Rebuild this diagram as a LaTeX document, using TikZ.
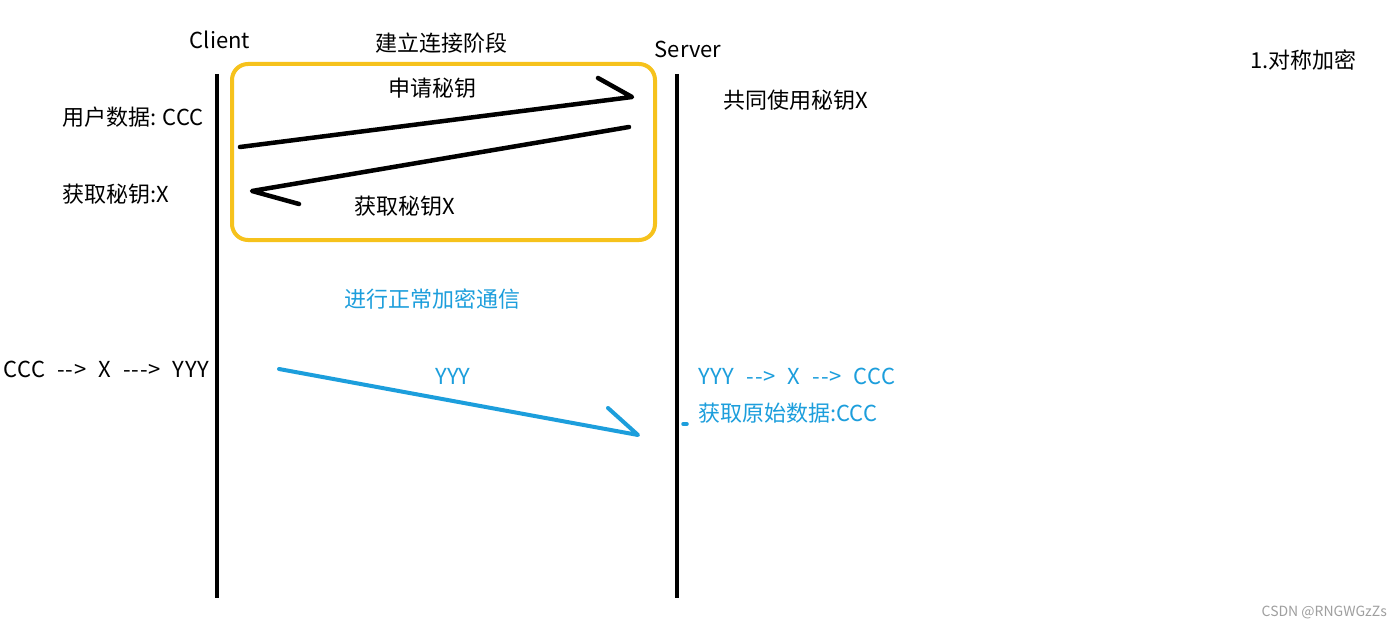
\documentclass[tikz,border=0pt]{standalone}
\usepackage{fontspec}
\newfontfamily\yh{Noto Sans CJK SC}
\newfontfamily\yhw{Noto Sans CJK SC}[WordSpace=2.2,LetterSpace=3]
\definecolor{gold}{HTML}{F6C21C}
\definecolor{sky}{HTML}{1C9EDC}
\begin{document}
\begin{tikzpicture}[x=1pt,y=-1pt,
  lbl/.style={font=\yh\fontsize{22}{26}\selectfont,inner sep=0pt},
  wlbl/.style={font=\yhw\fontsize{22}{26}\selectfont,inner sep=0pt},
  blbl/.style={lbl,text=sky},
  life/.style={line width=3.5pt,black},
  pen/.style={line width=4.5pt,line cap=round,line join=round},
  bpen/.style={line width=4pt,line cap=round,line join=round,sky}]
\useasboundingbox[fill=white] (0,0) rectangle (1400,631);
% lifelines
\coordinate (c1) at (217,74); \coordinate (c2) at (217,598);
\coordinate (s1) at (677,74); \coordinate (s2) at (677,598);
\draw[life] (c1) -- (c2);
\draw[life] (s1) -- (s2);
% headings
\node[lbl] (client) at (220,40) {Client};
\node[lbl] (server) at (688,49) {Server};
\node[lbl] (phase) at (441,43) {建立连接阶段};
\node[lbl,anchor=west] (title) at (1250,60) {1.对称加密};
% yellow box
\node[draw=gold,line width=4pt,rounded corners=16pt,minimum width=423pt,minimum height=176pt,inner sep=0pt] (box) at (443.5,152) {};
% left notes
\node[lbl,anchor=west] (data) at (62,117) {用户数据: CCC};
\node[lbl,anchor=west] (getx) at (62,194) {获取秘钥:X};
\node[lbl,anchor=west] (share) at (723,100) {共同使用秘钥X};
% arrow 1
\coordinate (a1s) at (240,147); \coordinate (a1t) at (632,97); \coordinate (a1b) at (598,78);
\draw[pen] (a1s) -- (a1t) -- (a1b);
\node[lbl] (req) at (432,88) {申请秘钥};
% arrow 2
\coordinate (a2s) at (629,127); \coordinate (a2t) at (252,191); \coordinate (a2b) at (299,204);
\draw[pen] (a2s) -- (a2t) -- (a2b);
\node[lbl] (resp) at (405,206) {获取秘钥X};
% normal comm
\node[blbl] (normal) at (432,299) {进行正常加密通信};
\node[wlbl,anchor=west] (enc) at (3,369) {CCC --> X ---> YYY};
\coordinate (a3s) at (279,369); \coordinate (a3t) at (638,435); \coordinate (a3b) at (608,408);
\draw[bpen] (a3s) -- (a3t) -- (a3b);
\node[blbl] (yyy) at (453,376) {YYY};
\coordinate (d1) at (683,424); \coordinate (d2) at (687,424);
\draw[sky,line width=3.5pt,line cap=round] (d1) -- (d2);
\node[wlbl,text=sky,anchor=west] (dec) at (698,376) {YYY --> X --> CCC};
\node[blbl,anchor=west] (orig) at (698,413) {获取原始数据:CCC};
\node[font=\yh\fontsize{14}{16}\selectfont,text=gray!75,anchor=east,inner sep=0pt] (wm) at (1387,612) {CSDN @RNGWGzZs};
\end{tikzpicture}
\end{document}
